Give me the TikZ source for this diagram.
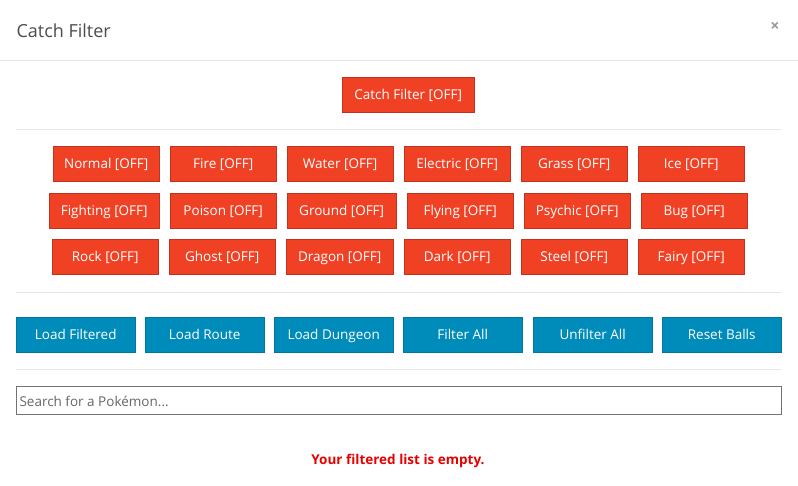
\documentclass[tikz,border=0pt]{standalone}
\usepackage{fontspec}
\setmainfont{Open Sans}
\usetikzlibrary{positioning}
\definecolor{offred}{HTML}{F04124}
\definecolor{btnblue}{HTML}{008CBA}
\definecolor{rulegray}{HTML}{E5E5E5}
\definecolor{msgred}{HTML}{E60000}
\begin{document}
\begin{tikzpicture}[x=1pt,y=-1pt,
    redbtn/.style={draw=offred!80!black, fill=offred, text=white, anchor=north west, minimum height=35pt, inner sep=0pt, text height=11.5pt, text depth=1.5pt, font=\fontsize{13.5}{16}\selectfont},
    bluebtn/.style={draw=btnblue!85!black, fill=btnblue, text=white, anchor=north west, minimum width=119pt, minimum height=35pt, inner sep=0pt, text height=11.5pt, text depth=1.5pt, font=\fontsize{13.5}{16}\selectfont},
    sep/.style={draw=rulegray, line width=0.8pt}
]
    \useasboundingbox[fill=white] (0,0) rectangle (798,486);
    % Header
    \node[anchor=west, text=black!70, font=\fontsize{18}{20}\selectfont] (title) at (13,31) {Catch Filter};
    \node[text=black!40, font=\bfseries\fontsize{16}{18}\selectfont] (close) at (775,27) {×};
    \coordinate (hl) at (0,60); \coordinate (hr) at (798,60);
    \draw[sep] (hl) -- (hr);
    % Main toggle
    \node[redbtn, minimum width=132pt] (catch) at (342,77) {Catch Filter [OFF]};
    \coordinate (r1l) at (16,129); \coordinate (r1r) at (781,129);
    \draw[sep] (r1l) -- (r1r);
    % Type toggles
    \foreach \n/\x/\w in {Normal/53/106, Fire/170/106, Water/287/106, Electric/404/106, Grass/521/106, Ice/638/106}
        \node[redbtn, minimum width=\w pt] (t\n) at (\x,146) {\n\ [OFF]};
    \foreach \n/\x/\w in {Fighting/49/110, Poison/170/106, Ground/287/109, Flying/407/106, Psychic/524/106, Bug/641/106}
        \node[redbtn, minimum width=\w pt] (t\n) at (\x,193) {\n\ [OFF]};
    \foreach \n/\x/\w in {Rock/52/106, Ghost/169/106, Dragon/286/107, Dark/404/106, Steel/521/106, Fairy/638/106}
        \node[redbtn, minimum width=\w pt] (t\n) at (\x,239) {\n\ [OFF]};
    \coordinate (r2l) at (16,292); \coordinate (r2r) at (781,292);
    \draw[sep] (r2l) -- (r2r);
    % Actions
    \foreach \t/\x [count=\i] in {Load Filtered/16, Load Route/145, Load Dungeon/274, Filter All/403, Unfilter All/533, Reset Balls/662}
        \node[bluebtn] (act\i) at (\x,317) {\t};
    \coordinate (r3l) at (16,369); \coordinate (r3r) at (781,369);
    \draw[sep] (r3l) -- (r3r);
    % Search
    \node[draw=black!55, line width=0.8pt, anchor=north west, minimum width=765pt, minimum height=28pt, inner sep=0pt] (search) at (16,386) {};
    \node[anchor=west, text=black!60, font=\fontsize{13.5}{16}\selectfont] (hint) at (16,401) {Search for a Pokémon...};
    % Message
    \node[text=msgred, font=\bfseries\fontsize{13.5}{16}\selectfont] (empty) at (398,461) {Your filtered list is empty.};
\end{tikzpicture}
\end{document}
